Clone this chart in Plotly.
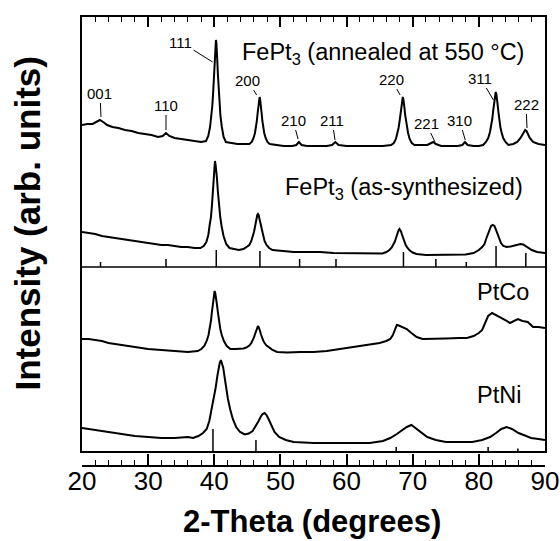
import plotly.graph_objects as go

# ---------------- data (2-theta in degrees, intensity in arb. units as stacked in the figure) -------------
anneal_x = [20.0, 20.8, 21.6, 22.2, 22.7, 23.2, 23.8, 24.6, 25.5, 26.5, 27.5, 28.5, 29.5, 30.5, 31.5, 32.2, 32.7, 33.2,
            34.0, 35.0, 36.0, 37.0, 38.0, 38.75, 39.09, 39.36, 39.57, 39.7, 39.84, 39.94, 40.05, 40.11, 40.18, 40.25,
            40.32, 40.39, 40.45, 40.56, 40.66, 40.8, 40.93, 41.14, 41.41, 41.75, 42.5, 43.5, 44.5, 45.31, 45.66, 45.94,
            46.15, 46.29, 46.43, 46.54, 46.64, 46.71, 46.78, 46.85, 46.92, 46.99, 47.06, 47.17, 47.27, 47.41, 47.55,
            47.76, 48.04, 48.39, 49.2, 50.5, 51.8, 52.4, 52.8, 53.2, 54.0, 55.5, 57.0, 57.8, 58.3, 58.8, 60.0, 62.0,
            64.0, 65.5, 66.74, 67.14, 67.46, 67.7, 67.86, 68.02, 68.14, 68.26, 68.34, 68.42, 68.5, 68.58, 68.66, 68.74,
            68.86, 68.98, 69.14, 69.3, 69.54, 69.86, 70.26, 71.2, 72.2, 72.8, 73.1, 73.5, 74.3, 75.5, 76.8, 77.5, 77.9,
            78.3, 79.2, 80.0, 80.64, 81.07, 81.42, 81.68, 81.85, 82.03, 82.16, 82.29, 82.38, 82.46, 82.55, 82.64, 82.72,
            82.81, 82.94, 83.07, 83.25, 83.42, 83.68, 84.03, 84.46, 85.2, 85.8, 86.3, 86.6, 86.8, 87.0, 87.2, 87.4,
            87.7, 88.2, 89.0, 90.0]
anneal_y = [326, 327, 327, 329, 331, 329, 326, 324, 323, 321, 320, 318, 317, 316, 314, 315, 318, 315,
            313, 312, 311, 310, 309, 310, 315, 324, 335, 345, 360, 375, 391, 402, 408, 411,
            408, 402, 391, 375, 360, 345, 335, 324, 314, 309, 308, 307, 307, 307, 309, 313,
            318, 323, 330, 337, 344, 349, 352, 354, 352, 349, 344, 337, 330, 323, 318,
            313, 309, 307, 306, 305, 305, 306, 309, 306, 305, 305, 305, 306, 309, 306, 305, 305,
            305, 305, 306, 308, 312, 318, 323, 330, 336, 344, 349, 352, 354, 352, 349, 344,
            336, 330, 323, 318, 312, 308, 306, 306, 306, 308, 309, 307, 305, 305, 305, 306, 309,
            306, 305, 305, 306, 309, 313, 319, 324, 332, 340, 348, 354, 357, 359, 357, 354,
            348, 340, 332, 324, 319, 313, 309, 306, 307, 309, 313, 317, 320, 321, 320, 317,
            313, 309, 307, 306]

assyn_x = [20, 21, 22, 23, 24, 25, 26, 27, 28, 29, 30, 31, 32, 33, 34, 35, 36, 37, 37.9, 38.4, 38.8, 39.1, 39.3,
           39.5, 39.65, 39.8, 39.9, 40.0, 40.1, 40.2, 40.3, 40.4, 40.55, 40.7, 40.9, 41.1, 41.4, 41.8, 42.3, 43.0,
           43.7, 44.4, 44.9, 45.3, 45.6, 45.8, 46.0, 46.15, 46.3, 46.4, 46.5, 46.6, 46.7, 46.8, 46.9, 47.05, 47.2,
           47.4, 47.6, 47.9, 48.3, 48.8, 50, 52, 54, 56, 58, 60, 62, 64, 65.43, 66.01, 66.48, 66.83, 67.06, 67.3,
           67.47, 67.65, 67.77, 67.88, 68.0, 68.12, 68.23, 68.35, 68.53, 68.7, 68.94, 69.17, 69.52, 69.99, 70.57,
           72, 74, 76, 78, 79.2, 80.0, 80.5, 80.85, 81.1, 81.35, 81.54, 81.73, 81.85, 82.1, 82.35, 82.48, 82.66,
           82.85, 83.1, 83.35, 83.7, 84.2, 84.8, 85.4, 85.9, 86.3, 86.7, 87.3, 88.0, 88.8, 90]
assyn_y = [219, 218, 217, 215, 214, 213, 212, 211, 210, 209, 208, 207, 206, 206, 205, 204, 204, 203, 203, 205, 209, 216, 226,
           234, 246, 259, 273, 281, 290, 286, 281, 273, 259, 246, 234, 225, 215, 207, 203, 202,
           201, 202, 204, 206, 210, 214, 219, 224, 230, 233, 236, 237, 236, 233, 230, 224, 219,
           214, 210, 206, 203, 201, 200, 199, 199, 199, 198, 198, 198, 198, 197.5, 199, 201, 203.5, 206, 209.5,
           213, 217, 219.5, 221, 222, 221, 219.5, 217, 213, 209.5, 206, 203.5, 200.7, 198.5, 197,
           196, 196, 196, 196.5, 198, 201, 204, 207, 212, 216, 220, 223, 225, 226, 225, 223, 220,
           216, 212, 208, 205, 204, 204.5, 205.5, 206.5, 207, 206.5, 204, 201, 199, 198]

ptco_x = [20, 21, 22, 23, 24, 25, 26, 28, 30, 32, 34, 36, 37.5, 38.03, 38.49, 38.85, 39.13, 39.31, 39.5, 39.64, 39.77,
          39.87, 39.96, 40.05, 40.16, 40.27, 40.37, 40.54, 40.7, 40.91, 41.13, 41.45, 41.89, 42.43, 43.2, 44.0,
          44.4, 44.9, 45.3, 45.6, 45.8, 46.0, 46.15, 46.3, 46.4, 46.5, 46.6, 46.7, 46.8, 46.9, 47.05, 47.2, 47.4,
          47.6, 47.9, 48.3, 48.8, 49.5, 51, 53, 55, 57, 59, 61, 63, 65, 66.0, 66.6, 67.0, 67.3, 67.6, 67.9, 68.4,
          69.1, 69.8, 70.6, 71.5, 73, 75, 77, 78.2, 79.2, 80.0, 80.5, 80.9, 81.4, 82.0, 82.6, 83.2, 84.0, 84.7,
          85.3, 85.9, 86.6, 87.4, 88.2, 89, 90]
ptco_y = [112, 112, 111, 110, 108, 107, 106, 104, 102, 101, 100, 99, 100, 102, 105, 110, 116, 122, 130.5, 139, 148,
          154, 157.5, 160, 157.5, 154, 148, 139, 130.5, 122, 116, 110, 105, 102, 102, 102.5,
          102.5, 103.6, 105.4, 108, 110.3, 113.5, 116.7, 120.4, 122.7, 124, 125, 124, 122.7, 120.4, 116.7, 113.5, 110.3,
          108, 105.4, 103.6, 101, 99, 98.5, 99, 99, 100, 102, 104, 106, 108, 110, 112, 116, 122, 126, 125.5, 124,
          122, 118, 114, 112, 112, 112.5, 113, 113, 115, 118, 121, 128, 135, 138, 136, 134, 131, 128,
          130, 132, 130, 129, 124, 124, 123]

ptni_x = [20, 21, 22, 23, 24, 25, 26, 28, 30, 32, 34, 36, 36.8, 37.6, 38.3, 38.85, 39.25, 39.6, 39.95, 40.2, 40.48,
          40.65, 40.82, 41.0, 41.18, 41.35, 41.52, 41.8, 42.05, 42.4, 42.8, 43.3, 43.9, 44.6, 45.2, 45.8, 46.3,
          46.7, 47.0, 47.3, 47.6, 47.9, 48.2, 48.6, 49.1, 49.8, 50.8, 52, 55, 60, 63.5, 65.5, 66.6, 67.6, 68.4,
          69.1, 69.8, 70.4, 71.2, 72.2, 73.5, 75, 77, 79, 80.5, 81.7, 82.6, 83.4, 84.2, 85.0, 86.0, 87.0, 87.9,
          89, 90]
ptni_y = [23, 22, 21, 20, 19, 18, 17, 15, 14, 13, 13, 14, 13, 15, 18, 22, 30, 41.7, 52.5, 63, 75.6,
          83.3, 88, 91, 88, 83.3, 75.6, 63, 52.5, 41.7, 32, 24, 19, 16.5, 17.5, 20, 25,
          30, 34, 37, 38, 36, 32, 26, 19, 14, 11, 9, 8, 8, 8, 10, 13, 17, 21,
          24, 26, 23, 19, 14, 11, 9, 9, 9, 11, 14, 18, 22, 24, 22, 18, 15, 13,
          12, 11]

# reference line patterns (stick positions, stick heights); upper sticks stand on the divider level
fept3_ref_pos = [22.8, 32.7, 40.3, 46.9, 52.9, 58.4, 68.6, 73.5, 78.1, 82.6, 87.1]
fept3_ref_h = [5, 8, 17, 16, 8, 8, 15, 8, 5, 21, 14]
pt_ref_pos = [39.8, 46.3, 67.5, 81.4, 85.9]
pt_ref_h = [22, 11, 4, 4, 2.5]

divider_level = 184
y_top = 434

hkl_labels = ["001", "110", "111", "200", "210", "211", "220", "221", "310", "311", "222"]
hkl_tip_x = [22.87, 32.7, 39.75, 46.4, 52.66, 58.25, 68.1, 73.37, 77.95, 82.2, 87.28]
hkl_tip_y = [334, 321, 389, 356, 312, 311, 356, 309, 311, 351, 323]
hkl_ax = [-1, 0, -32, -9, -5, -3, -9, -9, -6, -13, -1]
hkl_ay = [-24, -25, -20, -15, -19, -20, -16, -19, -20, -22, -24]

sample_labels = ["FePt<sub>3</sub> (annealed at 550 °C)", "FePt<sub>3</sub> (as-synthesized)", "PtCo", "PtNi"]
sample_label_x = [43.9, 50.4, 79.4, 79.4]
sample_label_y = [398, 263, 159, 56]

FONT = "Liberation Sans"


def sticks(pos, heights, base):
    xs, ys = [], []
    for p, h in zip(pos, heights):
        xs += [p, p, None]
        ys += [base, base + h, None]
    return xs, ys


fig = go.Figure()
line_style = dict(color="black", width=2)
for xs, ys, nm in [(anneal_x, anneal_y, "FePt3 annealed"), (assyn_x, assyn_y, "FePt3 as-synthesized"),
                   (ptco_x, ptco_y, "PtCo"), (ptni_x, ptni_y, "PtNi")]:
    fig.add_trace(go.Scatter(x=xs, y=ys, mode="lines", line=line_style, name=nm, showlegend=False))

sx, sy = sticks(fept3_ref_pos, fept3_ref_h, divider_level)
fig.add_trace(go.Scatter(x=sx, y=sy, mode="lines", line=dict(color="black", width=1.5),
                         showlegend=False, xaxis="x2", yaxis="y"))
sx, sy = sticks(pt_ref_pos, pt_ref_h, 0)
fig.add_trace(go.Scatter(x=sx, y=sy, mode="lines", line=dict(color="black", width=1.5), showlegend=False))

annotations = []
for t, x, y, ax, ay in zip(hkl_labels, hkl_tip_x, hkl_tip_y, hkl_ax, hkl_ay):
    annotations.append(dict(text=t, x=x, y=y, xref="x", yref="y", ax=ax, ay=ay, showarrow=True,
                            arrowhead=0, arrowwidth=1, arrowcolor="black",
                            font=dict(family=FONT, size=15, color="black")))
for t, x, y in zip(sample_labels, sample_label_x, sample_label_y):
    annotations.append(dict(text=t, x=x, y=y, xref="x", yref="y", showarrow=False, xanchor="left",
                            yanchor="middle", font=dict(family=FONT, size=23.5, color="black")))
annotations.append(dict(text="<b>Intensity (arb. units)</b>", x=-0.1166, y=0.54, xref="paper", yref="paper",
                        textangle=-90, showarrow=False, xanchor="center", yanchor="middle",
                        font=dict(family=FONT, size=35, color="black")))
annotations.append(dict(text="<b>2-Theta (degrees)</b>", x=0.497, y=-0.1247, xref="paper", yref="paper",
                        showarrow=False, xanchor="center", yanchor="middle",
                        font=dict(family=FONT, size=31, color="black")))

plot_h = 541 - 17 - 75
fig.update_layout(
    width=560, height=541,
    margin=dict(l=82, r=15, t=17, b=75, autoexpand=False),
    paper_bgcolor="white", plot_bgcolor="white",
    showlegend=False,
    annotations=annotations,
    shapes=[dict(type="line", xref="x domain", x0=0, x1=1, yref="y", y0=divider_level, y1=divider_level,
                 line=dict(color="black", width=1.5))],
    xaxis=dict(range=[20, 90], anchor="free", position=0, showline=True, linecolor="black", linewidth=1.5,
               ticks="inside", ticklen=11, tickwidth=1.5, tickcolor="black", dtick=10, tick0=20,
               minor=dict(dtick=2, ticks="inside", ticklen=5, tickwidth=1.2, tickcolor="black"),
               showgrid=False, zeroline=False, automargin=False, ticklabelstandoff=-8,
               tickfont=dict(family=FONT, size=26, color="black")),
    xaxis2=dict(range=[20, 90], overlaying="x", anchor="y", side="top", showline=True, mirror=True,
                linecolor="black", linewidth=1.5, ticks="inside", ticklen=10, tickwidth=1.5, tickcolor="black",
                dtick=10, tick0=20, showticklabels=False, automargin=False,
                minor=dict(dtick=2, ticks="inside", ticklen=5, tickwidth=1.2, tickcolor="black"),
                showgrid=False, zeroline=False),
    yaxis=dict(range=[0, y_top], domain=[15 / plot_h, 1], showline=True, mirror=True, linecolor="black",
               linewidth=1.5, ticks="", showticklabels=False, showgrid=False, zeroline=False, automargin=False),
)

fig.write_html("out.html", config={"displayModeBar": False},
               post_script="document.body.style.margin='0';document.body.style.overflow='hidden';")
